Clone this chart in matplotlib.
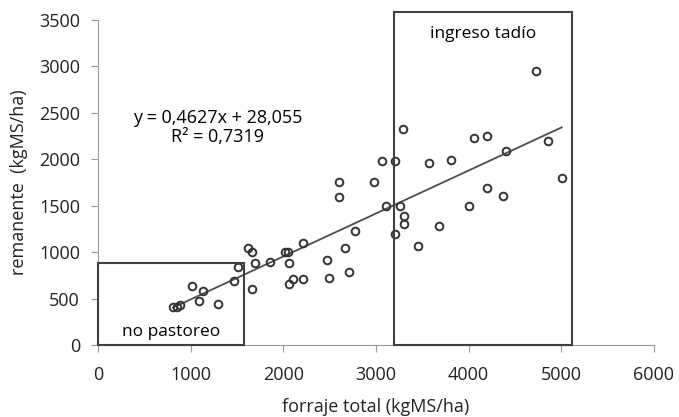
import matplotlib.pyplot as plt
from matplotlib.patches import Rectangle

# forraje total vs remanente (kgMS/ha)
forraje = [810, 850, 880, 1014, 1090, 1133, 1294, 1467, 1510, 1618, 1661, 1661,
           1694, 1855, 2017, 2050, 2060, 2060, 2104, 2211, 2211, 2470, 2492, 2600,
           2600, 2664, 2708, 2772, 2977, 3064, 3107, 3204, 3204, 3258, 3290, 3301,
           3301, 3452, 3571, 3679, 3808, 4002, 4056, 4196, 4196, 4369, 4401, 4725,
           4854, 5005]
remanente = [409, 409, 430, 635, 474, 581, 441, 689, 840, 1045, 1001, 603,
             883, 894, 1001, 1001, 883, 657, 711, 711, 1098, 915, 722, 1755,
             1594, 1045, 786, 1228, 1755, 1981, 1497, 1981, 1195, 1497, 2326, 1389,
             1303, 1066, 1960, 1282, 1992, 1497, 2229, 2251, 1691, 1605, 2089, 2951,
             2197, 1798]

pendiente = 0.4627
ordenada = 28.055

plt.rcParams['font.family'] = ['Open Sans', 'DejaVu Sans']

fig = plt.figure(figsize=(6.79, 4.17), dpi=100)
ax = fig.add_axes([0.1443, 0.1727, 0.8187, 0.7793])

ax.plot(forraje, remanente, 'o', markerfacecolor='none', markeredgecolor='#333333',
        markersize=5.5, markeredgewidth=1.4, zorder=3)

x0, x1 = min(forraje), max(forraje)
ax.plot([x0, x1], [pendiente * x0 + ordenada, pendiente * x1 + ordenada],
        color='#4d4d4d', linewidth=1.3, zorder=2)

ax.add_patch(Rectangle((0, 0), 1580, 880, fill=False, edgecolor='#404040',
                       linewidth=1.5, clip_on=False, zorder=4))
ax.add_patch(Rectangle((3200, 0), 1920, 3590, fill=False, edgecolor='#404040',
                       linewidth=1.5, clip_on=False, zorder=4))

ax.text(1290, 2450, 'y = 0,4627x + 28,055', ha='center', va='center', fontsize=13)
ax.text(1290, 2240, 'R² = 0,7319', ha='center', va='center', fontsize=13)
ax.text(4160, 3350, 'ingreso tadío', ha='center', va='center', fontsize=12.5)
ax.text(790, 140, 'no pastoreo', ha='center', va='center', fontsize=12.5)

ax.set_xlim(0, 6000)
ax.set_ylim(0, 3500)
ax.set_xticks(range(0, 6001, 1000))
ax.set_yticks(range(0, 3501, 500))
ax.tick_params(labelsize=13, length=5, color='#999999', labelcolor='#222222')
ax.tick_params(axis='x', pad=10.4)
ax.tick_params(axis='y', pad=8)
for s in ['top', 'right']:
    ax.spines[s].set_visible(False)
for s in ['left', 'bottom']:
    ax.spines[s].set_color('#999999')

ax.set_xlabel('forraje total (kgMS/ha)', fontsize=13, labelpad=10, color='#222222')
ax.set_ylabel('remanente  (kgMS/ha)', fontsize=13, labelpad=8, color='#222222')

fig.savefig('out.png', dpi=100)
